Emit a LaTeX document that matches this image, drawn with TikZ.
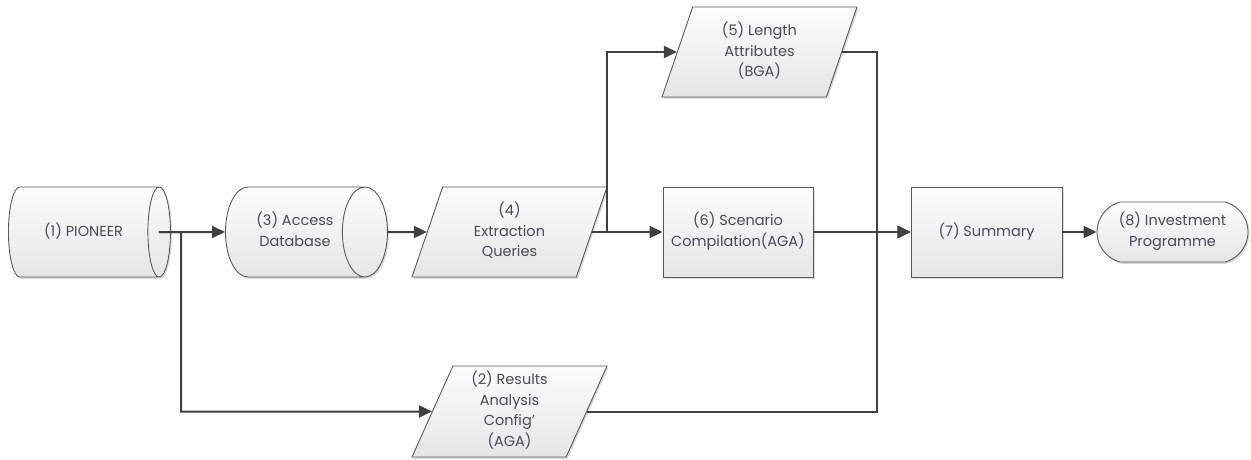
\documentclass[tikz,border=0pt]{standalone}
\usepackage{fontspec}
\setmainfont{Poppins}
\usetikzlibrary{shapes.geometric,shapes.misc,arrows.meta,shadows}
\definecolor{txt}{HTML}{4A4A5C}
\definecolor{edge}{HTML}{5A5A5A}
\definecolor{conncol}{HTML}{404040}
\newcommand{\lbl}[1]{\raisebox{-3.5pt}{\begin{tabular}{@{}c@{}}#1\end{tabular}}}
\begin{document}
\begin{tikzpicture}[x=1pt,y=-1pt,
  base/.style={draw=edge, line width=0.9pt, text=txt, align=center,
    top color=white!99!black, bottom color=white!90!black,
    drop shadow={shadow xshift=1.5pt, shadow yshift=-1.8pt, fill=black!18, opacity=0.8},
    font=\fontsize{14.5}{20.5}\selectfont, inner sep=0pt},
  dbase/.style={base, cylinder, shape aspect=1.1, minimum width=90pt, minimum height=162pt, anchor=west},
  iobox/.style={base, trapezium, trapezium left angle=63.5, trapezium right angle=116.5,
    trapezium stretches body, minimum width=195pt, minimum height=90pt},
  procbox/.style={base, rectangle, minimum width=150pt, minimum height=90pt},
  termbox/.style={base, rounded rectangle, rounded rectangle arc length=150,
    minimum width=151pt, minimum height=60pt},
  conn/.style={draw=conncol, line width=2pt, -{Triangle[length=13pt,width=12pt]}}
]
\useasboundingbox (0,0) rectangle (1251,459);

\node[dbase] (n1) at (8,232) {\lbl{(1) PIONEER}};
\node[dbase] (n3) at (225,232) {\lbl{(3) Access\\Database}};
\node[iobox] (n4) at (509.5,232) {\lbl{(4)\\Extraction\\Queries}};
\node[iobox] (n5) at (759.5,52) {\lbl{(5) Length\\Attributes\\(BGA)}};
\node[procbox] (n6) at (738,232) {\lbl{(6) Scenario\\Compilation(AGA)}};
\node[procbox, minimum width=151pt] (n7) at (986.5,232) {\lbl{(7) Summary}};
\node[termbox] (n8) at (1172.5,232) {\lbl{(8) Investment\\Programme}};
\node[iobox, minimum height=91pt] (n2) at (509.5,411.5) {\lbl{(2) Results\\Analysis\\Config'\\(AGA)}};

\coordinate (j1) at (181,232);
\coordinate (j2) at (607,232);
\coordinate (j3) at (877,232);

\draw[conn] ([xshift=-12pt]n1.east) -- (n3.west);
\draw[conn] ([xshift=-12pt]n1.east) -- (j1) |- (n2.west);
\draw[conn] (n3.east) -- (n4.west);
\draw[conn] (n4.east) -- (n6.west);
\draw[conn] (n4.east) -- (j2) |- (n5.west);
\draw[conn] (n6.east) -- (n7.west);
\draw[conn] (n5.east) -| (j3) -- (n7.west);
\draw[conn] (n2.east) -| (j3) -- (n7.west);
\draw[conn] (n7.east) -- (n8.west);
\end{tikzpicture}
\end{document}
